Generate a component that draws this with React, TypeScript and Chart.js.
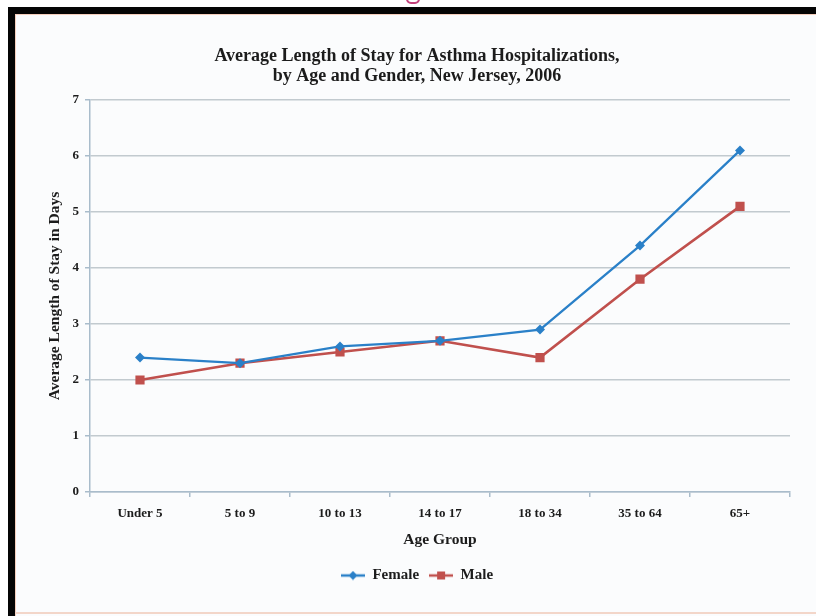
import React, { useEffect, useRef } from 'react';
import { Chart, registerables } from 'chart.js';

Chart.register(...registerables);

const ageGroups = ['Under 5', '5 to 9', '10 to 13', '14 to 17', '18 to 34', '35 to 64', '65+'];
const femaleStay = [2.4, 2.3, 2.6, 2.7, 2.9, 4.4, 6.1];
const maleStay = [2.0, 2.3, 2.5, 2.7, 2.4, 3.8, 5.1];
const yMin = 0;
const yMax = 7;
const yStep = 1;
const titleLines = ['Average Length of Stay for Asthma Hospitalizations,', 'by Age and Gender, New Jersey, 2006'];
const yTitle = 'Average Length of Stay in Days';
const xTitle = 'Age Group';
const seriesNames = ['Female', 'Male'];

const FEMALE = '#2a80c8';
const MALE = '#c0504d';
const GRID = '#c2cacf';
const AXIS = '#a9bccb';
const TEXT = '#1c1c1c';
const SERIF = '"Liberation Serif", "Times New Roman", serif';

function legendIcon(color: string, style: 'diamond' | 'square') {
  const c = document.createElement('canvas');
  c.width = 24;
  c.height = 10;
  const ctx = c.getContext('2d')!;
  ctx.strokeStyle = color;
  ctx.lineWidth = 2.5;
  ctx.beginPath();
  ctx.moveTo(0, 5);
  ctx.lineTo(24, 5);
  ctx.stroke();
  ctx.fillStyle = color;
  if (style === 'diamond') {
    ctx.beginPath();
    ctx.moveTo(12, 0.5);
    ctx.lineTo(16.5, 5);
    ctx.lineTo(12, 9.5);
    ctx.lineTo(7.5, 5);
    ctx.closePath();
    ctx.fill();
  } else {
    ctx.fillRect(8, 1, 8, 8);
  }
  return c;
}

export default function App() {
  const ref = useRef<HTMLCanvasElement>(null);

  useEffect(() => {
    if (!ref.current) return;
    const icons = [legendIcon(FEMALE, 'diamond'), legendIcon(MALE, 'square')];
    const chart = new Chart(ref.current, {
      type: 'line',
      data: {
        labels: ageGroups,
        datasets: [
          {
            label: seriesNames[0],
            data: femaleStay,
            borderColor: FEMALE,
            backgroundColor: FEMALE,
            borderWidth: 2.3,
            pointStyle: 'rectRot',
            pointRadius: 5,
            pointBorderWidth: 0,
            tension: 0,
          },
          {
            label: seriesNames[1],
            data: maleStay,
            borderColor: MALE,
            backgroundColor: MALE,
            borderWidth: 2.6,
            pointStyle: 'rect',
            pointRadius: 6.5,
            pointBorderWidth: 0,
            tension: 0,
          },
        ],
      },
      options: {
        responsive: false,
        animation: false,
        layout: { padding: { left: 44, right: 26, top: 0, bottom: 23 } },
        plugins: {
          tooltip: { enabled: false },
          title: {
            display: true,
            text: titleLines,
            color: TEXT,
            font: { family: SERIF, size: 18, weight: 'bold', lineHeight: 20 / 18 },
            padding: { top: 46, bottom: 14 },
          },
          legend: {
            position: 'bottom',
            labels: {
              color: TEXT,
              font: { family: SERIF, size: 15, weight: 'bold' },
              usePointStyle: true,
              pointStyleWidth: 24,
              boxHeight: 10,
              padding: 10,
              generateLabels: (c: any) =>
                Chart.defaults.plugins.legend.labels.generateLabels(c).map((l: any, i: number) => ({
                  ...l,
                  pointStyle: icons[i],
                })),
            },
          },
        },
        scales: {
          x: {
            offset: true,
            afterFit: (s: any) => {
              s.height = 66;
            },
            grid: {
              display: true,
              drawOnChartArea: false,
              drawTicks: true,
              tickLength: 5,
              color: AXIS,
              offset: true,
              lineWidth: 1.5,
            },
            border: { display: true, color: AXIS, width: 1.5 },
            ticks: {
              color: TEXT,
              font: { family: SERIF, size: 13, weight: 'bold' },
              padding: 9,
              maxRotation: 0,
            },
            title: {
              display: true,
              text: xTitle,
              color: TEXT,
              font: { family: SERIF, size: 15.5, weight: 'bold' },
              padding: { top: 0, bottom: 8.5 },
            },
          },
          y: {
            min: yMin,
            max: yMax,
            afterFit: (s: any) => {
              s.width = 46;
            },
            grid: {
              color: GRID,
              lineWidth: 1.5,
              drawTicks: true,
              tickLength: 5,
              tickColor: AXIS,
            },
            border: { display: true, color: AXIS, width: 1.5 },
            ticks: {
              stepSize: yStep,
              color: TEXT,
              font: { family: SERIF, size: 13, weight: 'bold' },
              padding: 6,
            },
            title: {
              display: true,
              text: yTitle,
              color: TEXT,
              font: { family: SERIF, size: 15.5, weight: 'bold' },
              padding: { top: 2, bottom: 0 },
            },
          },
        },
      },
    });
    return () => chart.destroy();
  }, []);

  return (
    <div style={{ position: 'absolute', left: 0, top: 0, width: 816, height: 616, background: '#ffffff', overflow: 'hidden' }}>
      <div style={{ position: 'absolute', left: 15, top: 14, width: 801, height: 602, background: '#fbfcfd' }} />
      <div style={{ position: 'absolute', left: 406, top: -6, width: 14, height: 10, borderRadius: 6, border: '2px solid #c2407a', boxSizing: 'border-box' }} />
      <div style={{ position: 'absolute', left: 8, top: 7, width: 808, height: 7, background: '#050505' }} />
      <div style={{ position: 'absolute', left: 15, top: 14, width: 801, height: 1, background: '#f6cfbd' }} />
      <div style={{ position: 'absolute', left: 8, top: 7, width: 7, height: 609, background: '#050505' }} />
      <div style={{ position: 'absolute', left: 15, top: 14, width: 1, height: 602, background: '#f6cfbd' }} />
      <div style={{ position: 'absolute', left: 15, top: 612, width: 801, height: 2, background: '#f3d6c9' }} />
      <canvas ref={ref} width={816} height={616} style={{ position: 'absolute', left: 0, top: 0, width: 816, height: 616 }} />
    </div>
  );
}
